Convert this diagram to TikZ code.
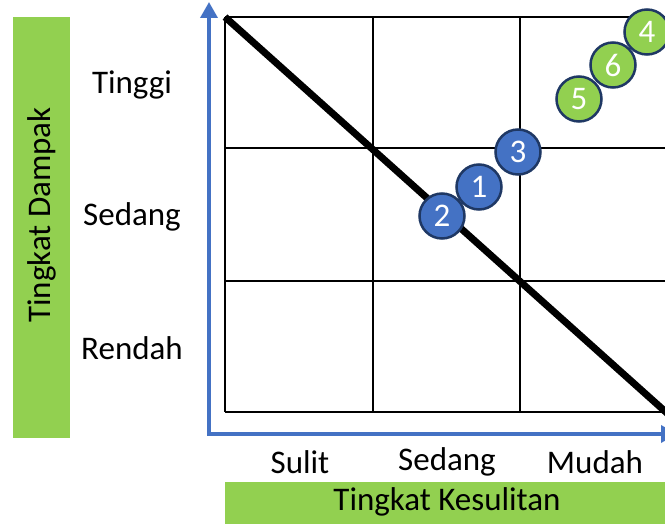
\documentclass[tikz,border=0pt]{standalone}
\usepackage{fontspec}
\setmainfont{Carlito}
\usepackage{xcolor}
\usetikzlibrary{arrows.meta}
\definecolor{barGreen}{HTML}{92D050}
\definecolor{axisBlue}{HTML}{4472C4}
\definecolor{ringNavy}{HTML}{1F3864}

\begin{document}
\begin{tikzpicture}[x=1pt, y=-1pt,
    every node/.style={font=\fontsize{33}{38}\selectfont},
    gridline/.style={line width=2},
    axisline/.style={draw=axisBlue, line width=3.5, {Triangle[width=17,length=16]}-{Triangle[width=17,length=16]}},
    riskblue/.style={circle, draw=ringNavy, fill=axisBlue, line width=2.5, minimum size=45, inner sep=0pt, text=white},
    riskgreen/.style={riskblue, fill=barGreen}]
  \useasboundingbox (0,0) rectangle (665,524);

  \fill[barGreen] (13,17) rectangle (70,438);
  \fill[barGreen] (225,482) rectangle (668,524);
  \node[rotate=90] (dampak) at (42,215) {Tingkat Dampak};
  \node (kesulitan) at (447,502) {Tingkat Kesulitan};

  \node (tinggi) at (132,85) {Tinggi};
  \node (sedangy) at (132,217) {Sedang};
  \node (rendah) at (132,348) {Rendah};
  \node (sulit) at (300,462) {Sulit};
  \node (sedangx) at (447,462) {Sedang};
  \node (mudah) at (595,462) {Mudah};

  \foreach \gx in {225,373,520,668}
    \draw[gridline] (\gx,17) -- (\gx,412);
  \foreach \gy in {17,148,281,412}
    \draw[gridline] (225,\gy) -- (668,\gy);

  \coordinate (topleft) at (225,17);
  \coordinate (botright) at (668,414);
  \draw[line width=7] (topleft) -- (botright);

  \coordinate (ytip) at (209,2);
  \coordinate (origin) at (209,434);
  \coordinate (xtip) at (677,434);
  \draw[axisline] (ytip) -- (origin) -- (xtip);

  \node[riskblue] (r1) at (479,187) {1};
  \node[riskblue] (r2) at (442,216) {2};
  \node[riskblue] (r3) at (518,152) {3};
  \node[riskgreen] (r6) at (613,65) {6};
  \node[riskgreen] (r5) at (579,99) {5};
  \node[riskgreen] (r4) at (647,32) {4};
\end{tikzpicture}
\end{document}
